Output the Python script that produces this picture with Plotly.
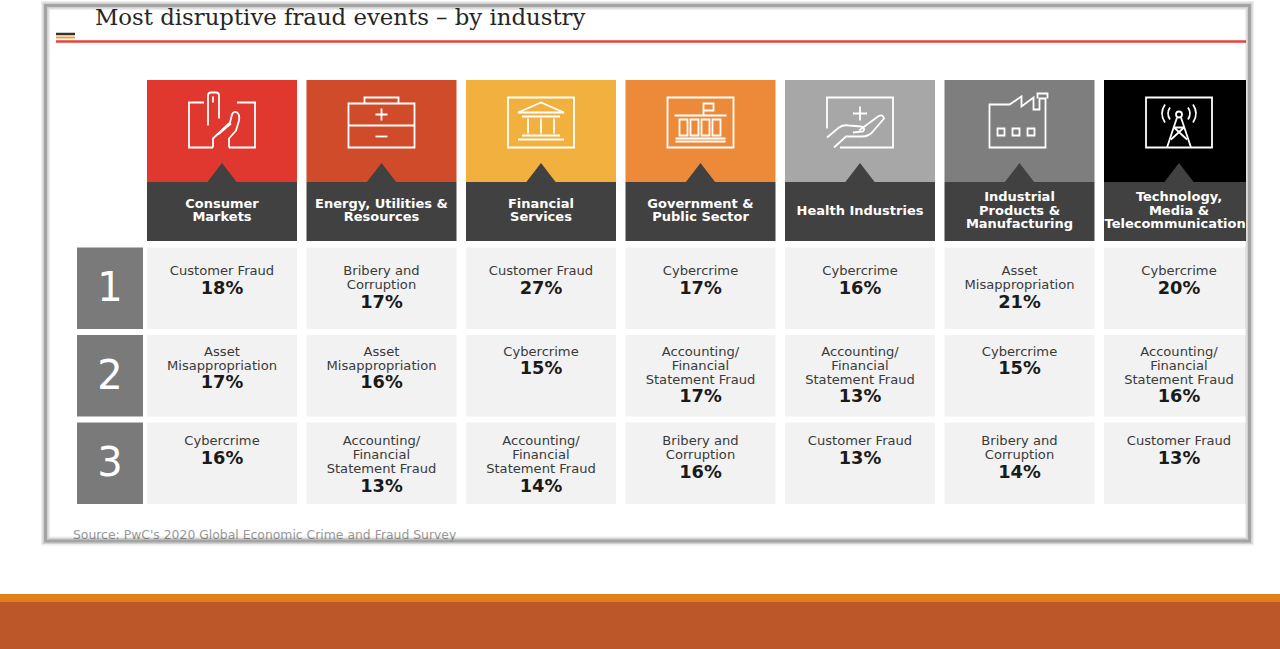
import plotly.graph_objects as go

# ---------------- data ----------------
industries = ["Consumer\nMarkets", "Energy, Utilities &\nResources", "Financial\nServices",
              "Government &\nPublic Sector", "Health Industries",
              "Industrial\nProducts &\nManufacturing", "Technology,\nMedia &\nTelecommunications"]
ranks = ["1", "2", "3"]
rank1_event = ["Customer Fraud", "Bribery and\nCorruption", "Customer Fraud", "Cybercrime",
               "Cybercrime", "Asset\nMisappropriation", "Cybercrime"]
rank1_pct = [18, 17, 27, 17, 16, 21, 20]
rank2_event = ["Asset\nMisappropriation", "Asset\nMisappropriation", "Cybercrime",
               "Accounting/\nFinancial\nStatement Fraud", "Accounting/\nFinancial\nStatement Fraud",
               "Cybercrime", "Accounting/\nFinancial\nStatement Fraud"]
rank2_pct = [17, 16, 15, 17, 13, 15, 16]
rank3_event = ["Cybercrime", "Accounting/\nFinancial\nStatement Fraud",
               "Accounting/\nFinancial\nStatement Fraud", "Bribery and\nCorruption",
               "Customer Fraud", "Bribery and\nCorruption", "Customer Fraud"]
rank3_pct = [16, 13, 14, 16, 13, 14, 13]
title_text = "Most disruptive fraud events – by industry"
source_text = "Source: PwC's 2020 Global Economic Crime and Fraud Survey"

events = [rank1_event, rank2_event, rank3_event]
pcts = [rank1_pct, rank2_pct, rank3_pct]

# ---------------- style / layout ----------------
W, H = 1280, 649
header_colors = ["#e0382e", "#d04b29", "#f2b13e", "#ec8a3a", "#a7a7a7", "#7e7e7e", "#000000"]
DARK = "#414141"
RANK_BG = "#7a7a7a"
CELL_BG = "#f2f2f2"
SANS = "DejaVu Sans"

COL0_X, COL_PITCH, COL_W = 147, 159.5, 150
FRAME = (45.5, 5.5, 1249.5, 541)
CLIP_X = 1246
HEAD_TOP, HEAD_MID, HEAD_BOT = 80, 182, 241
ROW_TOP0, ROW_PITCH, ROW_H = 247.5, 87.5, 81.5
TEXT_OFF = [24.5, 17.5, 19.5]
LINE_GAP, PCT_GAP = 14, 17.5
RANK_X0, RANK_X1 = 77, 143
ICON_CY = 122.5

shapes = []


def rect(x0, y0, x1, y1, fill=None, line=None, lw=0, layer="below"):
    shapes.append(dict(type="rect", xref="x", yref="y", x0=x0, y0=y0, x1=x1, y1=y1,
                       fillcolor=fill if fill else "rgba(0,0,0,0)",
                       line=dict(color=line if line else "rgba(0,0,0,0)", width=lw),
                       layer=layer))


def seg(x0, y0, x1, y1, color, lw):
    shapes.append(dict(type="line", xref="x", yref="y", x0=x0, y0=y0, x1=x1, y1=y1,
                       line=dict(color=color, width=lw), layer="below"))


def path_at(cx, cy, spec, color="white", lw=1.8, fill=None):
    toks = spec.replace(",", " ").split()
    out, nums = [], []
    for t in toks:
        if t.isalpha():
            out.append(t)
        else:
            nums.append(float(t))
            if len(nums) == 2:
                out.append(f"{cx + nums[0]:.2f},{cy + nums[1]:.2f}")
                nums = []
    shapes.append(dict(type="path", xref="x", yref="y", path=" ".join(out),
                       line=dict(color=color, width=lw),
                       fillcolor=fill if fill else "rgba(0,0,0,0)", layer="below"))


def box(x0, y0, x1, y1):
    return f"M {x0} {y0} L {x1} {y0} L {x1} {y1} L {x0} {y1} Z"


# icons, local coordinates around icon centre
icons = [
    ["M -18 -20 L -33 -20 L -33 25 L -9 25",
     "M 15 -20 L 33 -20 L 33 25 L 7 25",
     "M -14 3 L -14 -27 Q -14 -30 -11 -30 L -6 -30 Q -3 -30 -3 -27 L -3 -4",
     "M -9 -26 L -9 -20",
     "M -9 25 L -9 16 L 8 0 L 10 -8 Q 12 -12 15 -10 Q 18 -8 17 -2 L 14 8 L 7 16 L 7 25",
     "M -4 12 L 9 1"],
    [box(-33, -19, 33, 25), "M -17 -19 L -17 -25 L 17 -25 L 17 -19", "M -33 3 L 33 3",
     "M -6 -8 L 6 -8 M 0 -14 L 0 -2", "M -6 14 L 6 14"],
    [box(-33, -25, 33, 25), "M -23 -10 L 0 -20 L 23 -10 Z", "M -19 -6 L 19 -6",
     "M -13 -4 L -13 11 M 0 -4 L 0 11 M 13 -4 L 13 11",
     "M -19 13 L 19 13 M -23 17 L 23 17"],
    [box(-33, -25, 33, 25), "M -26 -7 L 26 -7", "M 3 -7 L 3 -19 L 13 -19 L 13 -12 L 3 -12",
     box(-21, -3, -13, 13), box(-10, -3, -2, 13), box(1, -3, 9, 13), box(12, -3, 20, 13),
     "M -25 16 L 25 16 M -25 19 L 25 19"],
    ["M -33 6 L -33 -25 L 33 -25 L 33 25 L -20 25", "M -7 -9 L 7 -9 M 0 -16 L 0 -2",
     "M -33 15 L -21 5 Q -17 2 -11 3 L 1 4 Q 6 5 3 9 L -7 10",
     "M -1 8 L 18 -6 Q 23 -9 24 -4 L 12 10 Q 8 14 2 14 L -14 14 L -26 25"],
    ["M -30 25 L -30 -18 L -10 -18 L 2 -26 L 2 -16 L 14 -25 L 14 -13 L 20 -13 L 20 -24 L 26 -24 L 26 25 Z",
     "M 18 -24 L 18 -29 L 28 -29 L 28 -24",
     box(-22, 6, -15, 13), box(-7, 6, 0, 13), box(8, 6, 15, 13)],
    [box(-33, -25, 33, 25), "M -2 -5 L -12 25 M 2 -5 L 12 25",
     "M -5 5 L 8 17 M 5 5 L -8 17 M -5 5 L 5 5",
     "M -9 -15 Q -13 -9 -9 -3", "M -14 -18 Q -20 -9 -14 0",
     "M 9 -15 Q 13 -9 9 -3", "M 14 -18 Q 20 -9 14 0",
     "M -3 -8 Q -3 -11 0 -11 Q 3 -11 3 -8 Q 3 -5 0 -5 Q -3 -5 -3 -8 Z"],
]

# ---------------- background pieces ----------------
rect(*FRAME, fill="white")

# title rule
seg(56, 34, 75, 34, "#333333", 2.5)
seg(56, 37.5, 75, 37.5, "#f0a030", 2)
seg(56, 41.5, CLIP_X, 41.5, "#e8413a", 2.5)

# bottom band
rect(0, 594, W, 602, fill="#e17f1c")
rect(0, 602, W, H, fill="#bc5729")

# header tiles
hx, hy, hs = [], [], []
for i, name in enumerate(industries):
    x0 = COL0_X + i * COL_PITCH
    x1 = min(x0 + COL_W, CLIP_X)
    cx = x0 + COL_W / 2
    rect(x0, HEAD_TOP, x1, HEAD_MID, fill=header_colors[i])
    rect(x0, HEAD_MID, x1, HEAD_BOT, fill=DARK)
    path_at(cx, HEAD_MID, "M -15 0.5 L 0 -19 L 15 0.5 Z", color=DARK, lw=0, fill=DARK)
    for p in icons[i]:
        path_at(cx, ICON_CY, p)
    lines = name.split("\n")
    mid = (HEAD_MID + HEAD_BOT) / 2
    for k, ln in enumerate(lines):
        hx.append(cx)
        hy.append(mid + (k - (len(lines) - 1) / 2) * 13.3)
        hs.append(ln)

# rank boxes and cells
rx, ry, rs = [], [], []
ex, ey, es = [], [], []
px, py, ps = [], [], []
for r in range(3):
    top = ROW_TOP0 + r * ROW_PITCH
    rect(RANK_X0, top, RANK_X1, top + ROW_H, fill=RANK_BG)
    rx.append((RANK_X0 + RANK_X1) / 2)
    ry.append(top + ROW_H / 2 + 3)
    rs.append(ranks[r])
    for i in range(len(industries)):
        x0 = COL0_X + i * COL_PITCH
        x1 = min(x0 + COL_W, CLIP_X)
        cx = x0 + COL_W / 2
        rect(x0, top, x1, top + ROW_H, fill=CELL_BG)
        lines = events[r][i].split("\n")
        y = top + TEXT_OFF[r]
        for k, ln in enumerate(lines):
            ex.append(cx)
            ey.append(y + k * LINE_GAP)
            es.append(ln)
        px.append(cx)
        py.append(y + (len(lines) - 1) * LINE_GAP + PCT_GAP)
        ps.append(f"{pcts[r][i]}%")

# frame border with soft shadow (drawn above content)
rect(FRAME[0], FRAME[1], FRAME[2], FRAME[3], line="rgba(0,0,0,0.07)", lw=9, layer="above")
rect(FRAME[0], FRAME[1], FRAME[2], FRAME[3], line="rgba(0,0,0,0.12)", lw=6, layer="above")
rect(FRAME[0], FRAME[1], FRAME[2], FRAME[3], line="rgba(150,150,150,0.75)", lw=3, layer="above")

fig = go.Figure()


def text_trace(x, y, t, size, color, family=SANS, pos="middle center"):
    fig.add_trace(go.Scatter(x=x, y=y, text=t, mode="text", textposition=pos,
                             textfont=dict(size=size, color=color, family=family),
                             hoverinfo="skip", showlegend=False))


text_trace(hx, hy, [f"<b>{s}</b>" for s in hs], 13, "white")
text_trace(rx, ry, rs, 40, "white")
text_trace(ex, ey, es, 13.1, "#3a3a3a")
text_trace(px, py, [f"<b>{s}</b>" for s in ps], 17.8, "#1a1a1a")
text_trace([95], [19], [title_text], 22.8, "#262626", family="DejaVu Serif", pos="middle right")
text_trace([73], [536], [source_text], 12.4, "#9a9a9a", pos="middle right")

fig.update_layout(
    width=W, height=H, margin=dict(l=0, r=0, t=0, b=0),
    paper_bgcolor="white", plot_bgcolor="white",
    xaxis=dict(range=[0, W], visible=False, fixedrange=True),
    yaxis=dict(range=[H, 0], visible=False, fixedrange=True),
    shapes=shapes, showlegend=False,
)
fig.write_html("out.html", config=dict(displayModeBar=False),
               post_script="document.body.style.margin='0';document.body.style.overflow='hidden';")
